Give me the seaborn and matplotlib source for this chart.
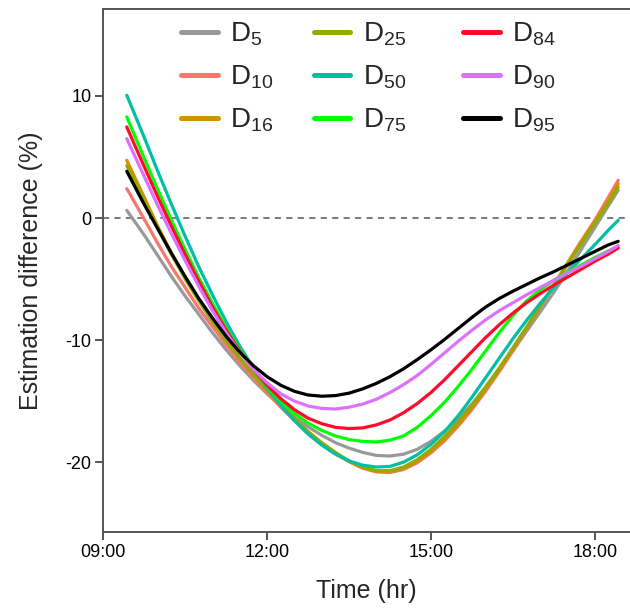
import numpy as np
import pandas as pd
import matplotlib
matplotlib.use("Agg")
import matplotlib.pyplot as plt
import seaborn as sns
from matplotlib.lines import Line2D

# ---- data ----
times = [9.43, 9.75, 10.0, 10.25, 10.5, 10.75, 11.0, 11.25, 11.5, 11.75,
         12.0, 12.25, 12.5, 12.75, 13.0, 13.25, 13.5, 13.75, 14.0, 14.25,
         14.5, 14.75, 15.0, 15.25, 15.5, 15.75, 16.0, 16.25, 16.5, 16.75,
         17.0, 17.25, 17.5, 17.75, 18.0, 18.25, 18.43]

D5 = [0.63, -1.4, -3.1, -4.8, -6.4, -7.9, -9.4, -10.8, -12.1, -13.3,
      -14.4, -15.4, -16.3, -17.1, -17.8, -18.4, -18.85, -19.2, -19.45, -19.5,
      -19.35, -18.95, -18.3, -17.45, -16.45, -15.25, -13.9, -12.4, -10.9, -9.3,
      -7.7, -6.1, -4.4, -2.6, -0.8, 1.0, 2.27]
D10 = [2.41, -0.1, -2.1, -4.0, -5.7, -7.4, -8.9, -10.4, -11.8, -13.1,
       -14.3, -15.5, -16.6, -17.6, -18.5, -19.3, -19.95, -20.5, -20.8, -20.85,
       -20.6, -20.05, -19.25, -18.25, -17.05, -15.7, -14.2, -12.6, -10.9, -9.1,
       -7.3, -5.5, -3.7, -1.9, -0.2, 1.7, 3.09]
D16 = [4.73, 1.7, -0.7, -2.9, -4.9, -6.7, -8.4, -10.0, -11.45, -12.8,
       -14.1, -15.3, -16.45, -17.5, -18.45, -19.25, -19.95, -20.45, -20.75, -20.8,
       -20.5, -19.95, -19.1, -18.1, -16.9, -15.55, -14.05, -12.45, -10.75, -9.0,
       -7.25, -5.5, -3.75, -2.0, -0.3, 1.4, 2.80]
D25 = [4.30, 1.4, -0.9, -3.0, -5.0, -6.8, -8.5, -10.05, -11.5, -12.85,
       -14.1, -15.3, -16.45, -17.5, -18.4, -19.2, -19.9, -20.4, -20.7, -20.7,
       -20.4, -19.8, -18.95, -17.9, -16.7, -15.35, -13.85, -12.3, -10.65, -8.95,
       -7.25, -5.55, -3.85, -2.15, -0.45, 1.2, 2.54]
D50 = [10.06, 6.6, 3.8, 1.1, -1.5, -4.0, -6.3, -8.5, -10.5, -12.3,
       -13.9, -15.35, -16.6, -17.7, -18.6, -19.35, -19.9, -20.25, -20.4, -20.35,
       -20.0, -19.4, -18.55, -17.5, -16.2, -14.7, -13.1, -11.5, -9.9, -8.4,
       -7.0, -5.7, -4.5, -3.35, -2.2, -1.0, -0.19]
D75 = [8.28, 4.9, 2.3, -0.2, -2.6, -4.9, -7.0, -9.0, -10.8, -12.4,
       -13.8, -15.0, -16.0, -16.8, -17.4, -17.85, -18.15, -18.3, -18.35, -18.2,
       -17.85, -17.15, -16.2, -15.1, -13.8, -12.4, -10.9, -9.4, -8.0, -6.8,
       -5.9, -5.1, -4.45, -3.85, -3.25, -2.7, -2.35]
D84 = [7.46, 4.2, 1.7, -0.7, -3.0, -5.2, -7.3, -9.2, -10.9, -12.4,
       -13.7, -14.8, -15.7, -16.4, -16.85, -17.15, -17.25, -17.2, -16.95, -16.55,
       -15.95, -15.2, -14.3, -13.25, -12.1, -10.95, -9.8, -8.75, -7.8, -6.95,
       -6.2, -5.5, -4.85, -4.2, -3.55, -2.95, -2.46]
D90 = [6.50, 3.4, 1.0, -1.3, -3.5, -5.6, -7.6, -9.4, -11.0, -12.4,
       -13.5, -14.4, -15.0, -15.4, -15.6, -15.65, -15.5, -15.25, -14.85, -14.3,
       -13.65, -12.9, -12.0, -11.05, -10.1, -9.2, -8.35, -7.6, -6.95, -6.3,
       -5.7, -5.1, -4.5, -3.95, -3.35, -2.75, -2.24]
D95 = [3.83, 1.1, -0.9, -2.9, -4.8, -6.6, -8.2, -9.7, -11.0, -12.1,
       -13.0, -13.7, -14.2, -14.5, -14.6, -14.55, -14.35, -14.0, -13.55, -13.0,
       -12.35, -11.6, -10.8, -9.95, -9.05, -8.15, -7.3, -6.6, -6.0, -5.45,
       -4.9, -4.4, -3.85, -3.3, -2.75, -2.2, -1.91]

series_names = ["D5", "D10", "D16", "D25", "D50", "D75", "D84", "D90", "D95"]
series_values = [D5, D10, D16, D25, D50, D75, D84, D90, D95]
series_labels = [r"$\mathrm{D}_{5}$", r"$\mathrm{D}_{10}$", r"$\mathrm{D}_{16}$",
                 r"$\mathrm{D}_{25}$", r"$\mathrm{D}_{50}$", r"$\mathrm{D}_{75}$",
                 r"$\mathrm{D}_{84}$", r"$\mathrm{D}_{90}$", r"$\mathrm{D}_{95}$"]
colors = ["#999999", "#F8766D", "#D39200", "#93AA00", "#00BFA4",
          "#00FF00", "#FF0A2A", "#DB72FB", "#000000"]

xtick_pos = [9, 12, 15, 18]
xtick_labels = ["09:00", "12:00", "15:00", "18:00"]
ytick_pos = [-20, -10, 0, 10]

# ---- build long table ----
rows = []
for name, vals in zip(series_names, series_values):
    for t, v in zip(times, vals):
        rows.append((t, v, name))
df = pd.DataFrame(rows, columns=["time", "value", "series"])

# ---- style ----
sns.set_theme(style="white")
plt.rcParams["font.family"] = ["Liberation Sans", "DejaVu Sans"]
plt.rcParams["mathtext.fontset"] = "custom"
plt.rcParams["mathtext.rm"] = "Liberation Sans"
plt.rcParams["mathtext.it"] = "Liberation Sans:italic"
plt.rcParams["axes.unicode_minus"] = False

W, H = 630, 608
fig = plt.figure(figsize=(W / 100, H / 100), dpi=100)
left_px, right_px, top_px, bottom_px = 103.3, 630, 9.3, 531.7
ax = fig.add_axes([left_px / W, 1 - bottom_px / H,
                   (right_px - left_px) / W, (bottom_px - top_px) / H])

ax.axhline(0, color="#555555", lw=1.1, ls=(0, (4, 3.5)), zorder=1)

palette = dict(zip(series_names, colors))
sns.lineplot(data=df, x="time", y="value", hue="series", hue_order=series_names,
             palette=palette, lw=2.3, ax=ax, estimator=None, sort=True,
             legend=False, zorder=2)

ax.set_xlim(9.0, 9.0 + (right_px - left_px) / 54.6)
ax.set_ylim(-25.7, 17.1)
ax.set_xticks(xtick_pos)
ax.set_xticklabels(xtick_labels)
ax.set_yticks(ytick_pos)
ax.set_yticklabels([str(v) for v in ytick_pos])
ax.tick_params(axis="both", which="major", labelsize=13, length=5.5, width=1.4,
               color="#555555", labelcolor="black", direction="out", pad=3)
ax.tick_params(axis="x", bottom=True)
ax.tick_params(axis="y", left=True)

for side in ["left", "bottom", "top"]:
    ax.spines[side].set_color("#555555")
    ax.spines[side].set_linewidth(1.4)
ax.spines["right"].set_visible(False)

ax.set_xlabel("Time (hr)", fontsize=18, labelpad=13)
ax.set_ylabel("Estimation difference (%)", fontsize=18)
ax.yaxis.set_label_coords((43 - left_px) / (right_px - left_px), 0.5)

# legend: three columns placed like the reference
col_x = [181, 313.5, 463]
for ci, cx in enumerate(col_x):
    hs = [Line2D([0], [0], color=c, lw=3.6) for c in colors[ci * 3:(ci + 1) * 3]]
    lg = fig.legend(hs, series_labels[ci * 3:(ci + 1) * 3], loc="upper left",
                    bbox_to_anchor=(cx / W, 1 - 21 / H), frameon=False,
                    fontsize=20, handlelength=1.33, handletextpad=0.45,
                    labelspacing=0.55, borderpad=0, borderaxespad=0)

fig.savefig("out.png", dpi=100)
